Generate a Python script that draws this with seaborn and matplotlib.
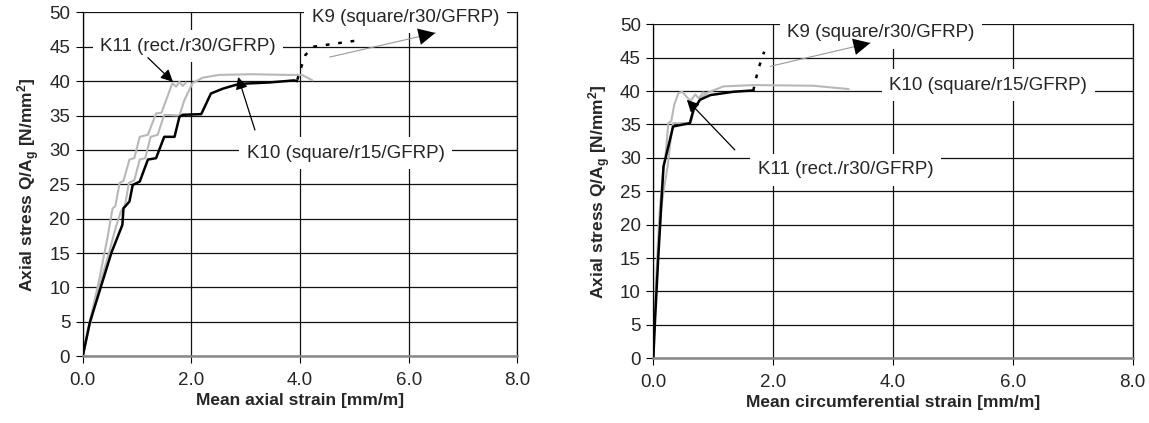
import matplotlib
matplotlib.use("Agg")
import matplotlib.pyplot as plt
import seaborn as sns
import numpy as np

# ---------------- data ----------------
# Left panel: mean axial strain [mm/m] vs axial stress [N/mm2]
k9_ax_x = [0, 0.13, 0.53, 0.73, 0.75, 0.86, 0.92, 1.05, 1.20, 1.28, 1.35, 1.50, 1.69, 1.78, 1.84,
           2.18, 2.20, 2.36, 2.58, 2.88, 3.43, 3.89, 3.95]
k9_ax_y = [0, 4.9, 15.1, 19.1, 21.5, 22.5, 24.9, 25.4, 28.6, 28.7, 28.8, 31.9, 31.9, 34.8, 35.1,
           35.2, 35.5, 38.2, 38.9, 39.6, 39.8, 40.1, 40.0]
k9_ax_dot_x = [3.95, 4.00, 4.10, 4.25, 4.60, 5.05]
k9_ax_dot_y = [40.2, 41.5, 43.8, 45.0, 45.4, 45.9]
k10_ax_x = [0, 0.10, 0.30, 0.50, 0.60, 0.70, 0.78, 0.85, 0.95, 1.05, 1.15, 1.25, 1.38, 1.50, 1.78,
            1.87, 2.02, 2.21, 2.51, 3.12, 3.74, 4.04, 4.23]
k10_ax_y = [0, 3.5, 10.0, 15.5, 18.5, 21.0, 22.0, 25.2, 25.6, 28.6, 28.8, 31.9, 32.2, 35.1, 35.0,
            37.2, 39.7, 40.5, 40.9, 41.0, 40.9, 40.9, 40.1]
k11_ax_x = [0, 0.10, 0.30, 0.45, 0.55, 0.60, 0.68, 0.75, 0.86, 0.95, 1.05, 1.20, 1.35, 1.45, 1.65,
            1.72, 1.78, 1.84, 1.90]
k11_ax_y = [0, 4.0, 11.0, 17.0, 21.5, 21.8, 25.2, 25.5, 28.6, 28.8, 31.9, 32.2, 35.3, 35.4, 39.7,
            39.2, 39.9, 39.3, 39.8]

# Right panel: mean circumferential strain [mm/m] vs axial stress [N/mm2]
k9_ci_x = [0, 0.03, 0.08, 0.12, 0.14, 0.17, 0.25, 0.33, 0.61, 0.67, 0.78, 0.95, 1.34, 1.67]
k9_ci_y = [0, 6.0, 14.7, 21.0, 24.2, 28.7, 31.7, 34.7, 35.2, 37.2, 38.7, 39.4, 39.9, 40.1]
k9_ci_dot_x = [1.67, 1.70, 1.75, 1.81, 1.85]
k9_ci_dot_y = [40.1, 41.4, 43.2, 44.9, 45.9]
k10_ci_x = [0, 0.03, 0.06, 0.10, 0.14, 0.18, 0.24, 0.28, 0.33, 0.62, 0.70, 0.80, 0.89, 1.17, 1.67,
            2.67, 3.26]
k10_ci_y = [0, 7.0, 13.0, 19.0, 23.0, 25.5, 28.8, 32.0, 35.2, 35.2, 37.7, 39.0, 39.7, 40.7, 40.9,
            40.8, 40.3]
k11_ci_x = [0, 0.02, 0.05, 0.08, 0.11, 0.14, 0.17, 0.20, 0.22, 0.25, 0.30, 0.35, 0.42, 0.48, 0.55,
            0.62, 0.70, 0.76, 0.83, 0.89]
k11_ci_y = [0, 6.0, 12.0, 18.0, 22.5, 25.5, 28.8, 30.0, 32.0, 35.2, 35.5, 38.0, 39.7, 39.9, 39.2,
            38.5, 39.5, 38.9, 39.8, 39.6]

labels = ["K9 (square/r30/GFRP)", "K10 (square/r15/GFRP)", "K11 (rect./r30/GFRP)"]
x_ticks = [0.0, 2.0, 4.0, 6.0, 8.0]
y_ticks = list(range(0, 55, 5))
xlabels = ["Mean axial strain [mm/m]", "Mean circumferential strain [mm/m]"]
ylabel = r"Axial stress Q/A$_\mathbf{g}$ [N/mm$^\mathbf{2}$]"

# ---------------- style ----------------
sns.set_theme(style="white")
plt.rcParams["font.family"] = ["Liberation Sans", "DejaVu Sans"]
plt.rcParams["mathtext.fontset"] = "custom"
plt.rcParams["mathtext.rm"] = "Liberation Sans"
plt.rcParams["mathtext.bf"] = "Liberation Sans:bold"
plt.rcParams["mathtext.it"] = "Liberation Sans:italic"

fig = plt.figure(figsize=(11.49, 4.23), dpi=100)
ax1 = fig.add_axes([0.0720, 0.1577, 0.3782, 0.8132])
ax2 = fig.add_axes([0.5686, 0.1530, 0.4172, 0.7896])

GRAY = "#b8b8b8"


def style_axes(ax, xlabel):
    ax.set_xlim(0, 8)
    ax.set_ylim(0, 50)
    ax.set_xticks(x_ticks)
    ax.set_xticklabels([f"{t:.1f}" for t in x_ticks])
    ax.set_yticks(y_ticks)
    ax.grid(True, color="#111111", lw=0.9)
    ax.set_axisbelow(True)
    ax.spines["top"].set_visible(False)
    ax.spines["right"].set_visible(True)
    ax.spines["right"].set_color("#111111")
    ax.spines["right"].set_linewidth(0.9)
    ax.spines["left"].set_color("black")
    ax.spines["left"].set_linewidth(0.9)
    ax.spines["bottom"].set_color("#888888")
    ax.spines["bottom"].set_linewidth(1.8)
    ax.tick_params(axis="both", direction="out", length=5, width=0.8, color="black",
                   labelsize=13.5, bottom=True, left=True)
    ax.tick_params(axis="x", pad=6)
    ax.tick_params(axis="y", pad=4)
    ax.set_xlabel(xlabel, fontsize=12.5, fontweight="bold", labelpad=3)
    ax.set_ylabel(ylabel, fontsize=12.5, fontweight="bold", labelpad=5)


def draw(ax, k9x, k9y, k9dx, k9dy, k10x, k10y, k11x, k11y):
    sns.lineplot(x=k11x, y=k11y, sort=False, estimator=None, color=GRAY, lw=1.5, ax=ax)
    sns.lineplot(x=k10x, y=k10y, sort=False, estimator=None, color=GRAY, lw=1.5, ax=ax)
    sns.lineplot(x=k9x, y=k9y, sort=False, estimator=None, color="black", lw=1.8, ax=ax)
    sns.lineplot(x=k9dx, y=k9dy, sort=False, estimator=None, color="black", lw=1.8,
                 linestyle=(0, (1.5, 3.5)), ax=ax)


def label(ax, x, y, s):
    ax.text(x, y, s, ha="center", va="center", fontsize=13.5, zorder=10, clip_on=False,
            bbox=dict(boxstyle="square,pad=0.4", fc="white", ec="none"))


def arrow(ax, tail, head, color="black"):
    ax.annotate("", xy=head, xytext=tail, zorder=11,
                arrowprops=dict(arrowstyle="-|>", color=color, lw=0.9, mutation_scale=18,
                                shrinkA=0, shrinkB=0))


def gray_arrow(ax, tail, head):
    ax.annotate("", xy=head, xytext=tail, zorder=11,
                arrowprops=dict(arrowstyle="-", color="#999999", lw=0.8, shrinkA=0, shrinkB=0))
    t = 0.8
    mid = (tail[0] + t * (head[0] - tail[0]), tail[1] + t * (head[1] - tail[1]))
    ax.annotate("", xy=head, xytext=mid, zorder=11,
                arrowprops=dict(arrowstyle="-|>", color="black", lw=0.01, mutation_scale=30,
                                shrinkA=0, shrinkB=0))


# Left panel
draw(ax1, k9_ax_x, k9_ax_y, k9_ax_dot_x, k9_ax_dot_y, k10_ax_x, k10_ax_y, k11_ax_x, k11_ax_y)
style_axes(ax1, xlabels[0])
label(ax1, 5.94, 49.3, labels[0])
label(ax1, 1.94, 45.1, labels[2])
label(ax1, 4.84, 29.5, labels[1])
arrow(ax1, (1.20, 43.4), (1.66, 39.9))
arrow(ax1, (3.17, 32.9), (2.86, 40.6))
gray_arrow(ax1, (4.55, 43.5), (6.49, 47.0))

# Right panel
draw(ax2, k9_ci_x, k9_ci_y, k9_ci_dot_x, k9_ci_dot_y, k10_ci_x, k10_ci_y, k11_ci_x, k11_ci_y)
style_axes(ax2, xlabels[1])
label(ax2, 3.80, 48.7, labels[0])
label(ax2, 5.59, 40.9, labels[1])
label(ax2, 3.21, 28.2, labels[2])
arrow(ax2, (1.36, 31.2), (0.56, 38.7))
gray_arrow(ax2, (1.95, 43.7), (3.62, 47.2))

fig.savefig("out.png", dpi=100)
